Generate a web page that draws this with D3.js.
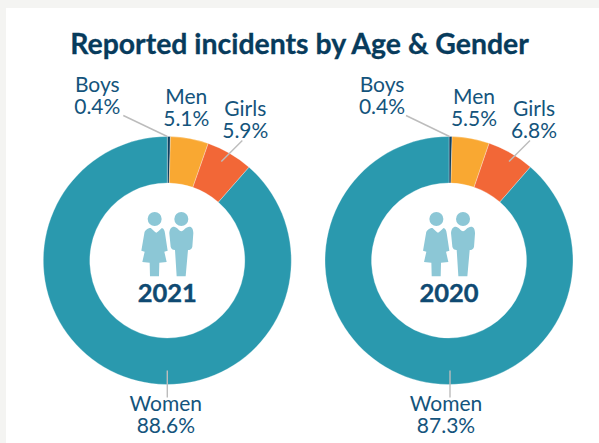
<!DOCTYPE html>
<html>
<head>
<meta charset="utf-8">
<script src="https://cdn.jsdelivr.net/npm/d3@7/dist/d3.min.js"></script>
<style>
html,body{margin:0;padding:0;background:#f4f4f2;}
svg{display:block;}
</style>
</head>
<body>
<svg id="chart" width="599" height="443"></svg>
<script>
const categories = ["Boys", "Men", "Girls", "Women"];
const years = ["2021", "2020"];
// printed percentages
const values2021 = [0.4, 5.1, 5.9, 88.6];
const values2020 = [0.4, 5.5, 6.8, 87.3];
// slice sizes as actually drawn in the picture (the 2020 ring does not follow its printed labels)
const drawn2021 = [0.4, 4.95, 6.1, 88.55];
const drawn2020 = [0.4, 4.85, 6.15, 88.6];
const colors = ["#0f3f60", "#f9a832", "#f26737", "#2a99ae"];
const titleText = "Reported incidents by Age & Gender";

const svg = d3.select("#chart");
svg.append("rect").attr("x", 6).attr("y", 8).attr("width", 593).attr("height", 435).attr("fill", "#fff");
svg.append("text").attr("x", 299.5).attr("y", 54).attr("text-anchor", "middle")
  .attr("font-family", "Lato").attr("font-weight", 700).attr("font-size", 28.4)
  .attr("fill", "#073b5c").attr("stroke", "#073b5c").attr("stroke-width", 0.3).text(titleText);

const outerR = 124, innerR = 77.5;
const x = d3.scalePoint().domain(years).range([167.3, 449]);
const pie = d3.pie().sort(null).value(d => d);
const arc = d3.arc().outerRadius(outerR).innerRadius(innerR);

// label placement per chart: text centre/first baseline and leader start/end, relative to donut centre
const labelLayouts = {
  "2021": { Boys: {tx:-70, ty:-168.5, l:[-44,-145,0,-124]}, Men: {tx:19, ty:-156.5, l:null},
            Girls: {tx:78, ty:-144.5, l:[75,-120,54,-99]}, Women: {tx:-1.5, ty:150.5, l:[0,110,0,137]} },
  "2020": { Boys: {tx:-67, ty:-168.5, l:[-43,-145,0.5,-124]}, Men: {tx:25, ty:-156.5, l:null},
            Girls: {tx:85, ty:-144.5, l:[81,-120,60,-99]}, Women: {tx:-3, ty:150.5, l:[1,110,1,137]} }
};

const woman = "M122,84 C127,88 136,98 139,98 C142,98 151,88 156,84 C162,86 164,92 165,100 L173,152 L163,155 L170,186 L148,188 L147,229 L120,229 L119,188 L97,186 L104,155 L94,152 L103,100 C104,92 112,84 122,84 Z";
const man = "M192,80 C200,80 207,92 214,94 C221,92 228,80 238,80 C246,80 250,88 250,100 L247,140 C246,147 240,150 234,150 L227,229 L200,229 L195,150 C188,150 183,146 182,140 L178,100 C178,88 184,80 192,80 Z";

function donut(year, values, drawn) {
  const cx = x(year), cy = 260.5;
  const g = svg.append("g").attr("transform", `translate(${cx},${cy})`);
  g.selectAll("path.slice").data(pie(drawn)).join("path").attr("class", "slice")
    .attr("d", arc).attr("fill", (d, i) => colors[i])
    .attr("stroke", "#fff").attr("stroke-width", 0.3);

  const layout = labelLayouts[year];
  categories.forEach((c, i) => {
    const p = layout[c];
    if (p.l) {
      g.append("line").attr("x1", p.l[0]).attr("y1", p.l[1]).attr("x2", p.l[2]).attr("y2", p.l[3])
        .attr("stroke", "#bcbcbc").attr("stroke-width", 1.4);
    }
    const t = g.append("text").attr("text-anchor", "middle")
      .attr("font-family", "Lato").attr("font-size", 21).attr("fill", "#14547c");
    t.append("tspan").attr("x", p.tx).attr("y", p.ty).text(c);
    t.append("tspan").attr("x", p.tx).attr("y", p.ty + 22).text(values[i] + "%");
  });

  const icon = svg.append("g").attr("transform", `translate(${cx - 57.3},200) scale(0.3333)`).attr("fill", "#8cc7d6");
  icon.append("circle").attr("cx", 134).attr("cy", 57).attr("r", 21);
  icon.append("circle").attr("cx", 214).attr("cy", 57).attr("r", 21);
  icon.append("path").attr("d", woman);
  icon.append("path").attr("d", man);

  g.append("text").attr("x", 0).attr("y", 41.5).attr("text-anchor", "middle")
    .attr("font-family", "Lato").attr("font-weight", 700).attr("font-size", 25.5)
    .attr("fill", "#0f4a72").attr("stroke", "#0f4a72").attr("stroke-width", 0.4).text(year);
}
donut("2021", values2021, drawn2021);
donut("2020", values2020, drawn2020);
</script>
</body>
</html>
